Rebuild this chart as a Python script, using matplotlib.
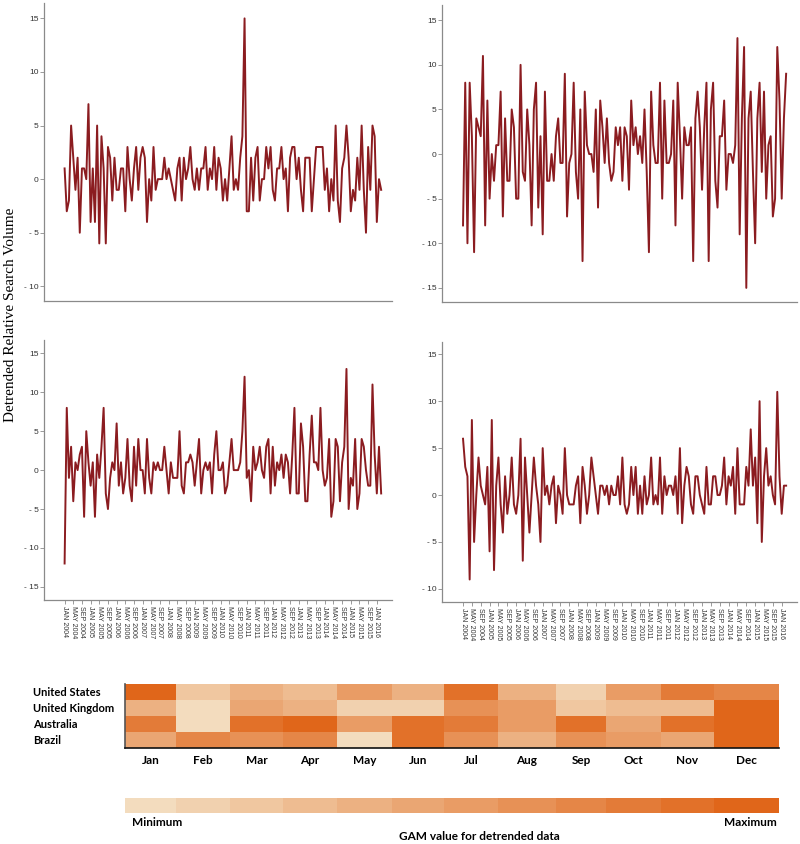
import matplotlib
matplotlib.use("Agg")
import matplotlib.pyplot as plt
import numpy as np
from matplotlib.colors import LinearSegmentedColormap, BoundaryNorm

# detrended relative search volume, monthly from Jan 2004
us_vals = [1, -3, -2, 5, 2, -1, 2, -5, 1, 1, 0, 7, -4, 1, -4, 5, -6, 4, 1, -6,
           3, 2, -2, 2, -1, -1, 1, 1, -3, 3, 0, -2, 1, 3, -1, 2, 3, 2, -4, 0,
           -2, 3, -1, 0, 0, 0, 2, 0, 1, 0, -1, -2, 1, 2, -2, 2, 0, 1, 3, 0,
           -1, 1, -1, 1, 1, 3, -1, 1, 0, 3, -1, 2, 1, -2, 0, -2, 1, 4, -1, 0,
           -1, 2, 4, 15, -3, -3, 2, -2, 2, 3, -2, 0, 0, 3, 1, 3, -1, -2, 1, 1,
           3, 0, 1, -3, 2, 3, 3, 0, 2, -1, -3, 2, 2, 2, -3, 0, 3, 3, 3, 3,
           -1, 1, -3, 0, -2, 5, -2, -4, 1, 2, 5, 2, -3, -1, -2, 2, -1, 5, -1, -5,
           3, -1, 5, 4, -4, 0, -1]
uk_vals = [-8, 8, -10, 8, 2, -11, 4, 3, 2, 11, -8, 6, -5, 0, -3, 1, 1, 7, -7, 4,
           -3, -3, 5, 3, -5, -5, 10, -2, -3, 5, 1, -8, 5, 8, -6, 2, -9, 7, -3, -3,
           0, -3, 2, 4, -1, -1, 9, -7, -1, 0, 8, -2, -5, 5, -12, 7, 1, 0, 0, -2,
           5, -6, 6, 3, -1, 4, -1, -3, -2, 3, 1, 3, -3, 3, 2, -4, 6, 1, 3, 0,
           2, -1, 5, -2, -11, 7, 1, -1, -1, 8, -5, 6, -1, -1, 0, 6, -8, 8, 2, -5,
           3, 1, 1, 3, -12, 4, 7, 3, -4, 3, 8, -12, 5, 8, -3, -6, 2, 2, 6, -4,
           0, 0, -1, 1, 13, -9, 4, 12, -15, 4, 7, -2, -10, 4, 8, -2, 7, -5, 1, 2,
           -7, -5, 12, 6, -5, 4, 9]
au_vals = [-12, 8, -1, 3, -4, 1, 0, 2, 3, -6, 5, 1, -2, 1, -6, 2, -1, 3, 8, -3,
           -5, -1, 1, 0, 6, -2, 1, -3, -1, 4, -2, -4, 3, -2, 4, 0, 0, -3, 4, -1,
           -3, 1, 0, 1, 0, 0, 3, 0, -3, 1, -1, -1, -1, 5, -2, -3, 1, 1, 2, 1,
           -2, 1, 4, -3, 0, 1, 0, 1, -3, 2, 5, 0, 0, 1, -3, -2, 1, 4, 0, 0,
           0, 1, 5, 12, -1, 0, -4, 3, 0, 1, 3, 0, -1, 3, 4, -3, 3, -2, 1, 0,
           2, -1, 2, 1, -3, 2, 8, -3, -3, 6, 3, -4, -4, 2, 7, 1, 1, 0, 8, 0,
           -2, -1, 4, -6, -4, 4, 3, -4, 1, 3, 13, -5, -1, -2, 4, -5, -3, 4, 3, 0,
           -2, -2, 11, 2, -3, 3, -3]
br_vals = [6, 3, 2, -9, 8, -5, 0, 4, 1, 0, -1, 3, -6, 8, -8, 1, 4, -1, -4, 2,
           -2, 0, 4, -1, -2, 0, 6, -7, 4, 0, -4, 0, 4, 1, -1, -5, 5, 0, 1, -1,
           1, 2, -3, 1, 0, -2, 5, 0, -1, -1, -1, 1, 2, -3, 3, 1, -2, 0, 4, 2,
           0, -2, 1, 1, 0, 1, -1, 1, 0, 0, 2, -1, 4, -1, -2, -1, 3, 0, 3, -2,
           1, -2, 2, -1, 0, 4, -1, 0, -1, 4, -2, 2, 0, 1, 1, 0, 2, -2, 5, -3,
           1, 3, 2, -1, -2, 2, 2, 0, -1, -2, 3, -1, -1, 2, 2, 0, 0, 1, 4, -1,
           2, 1, 3, -2, 5, -1, -1, -1, 3, 1, 7, 1, 4, -3, 10, -5, 2, 5, 1, 2,
           0, -1, 11, 2, -2, 1, 1]

tick_months = ["JAN", "MAY", "SEP"]
tick_years = list(range(2004, 2017))

# GAM heatmap (level 0 = minimum, 11 = maximum)
countries = ["United States", "United Kingdom", "Australia", "Brazil"]
months = ["Jan", "Feb", "Mar", "Apr", "May", "Jun", "Jul", "Aug", "Sep", "Oct", "Nov", "Dec"]
gam_us = [11, 2, 4, 3, 6, 4, 10, 4, 1, 6, 9, 8]
gam_uk = [4, 0, 5, 4, 1, 1, 7, 6, 2, 3, 3, 11]
gam_au = [9, 0, 10, 11, 6, 10, 9, 6, 10, 5, 10, 11]
gam_br = [5, 8, 7, 8, 0, 10, 7, 4, 7, 6, 5, 11]

line_col = "#8B1C20"
spine_col = "#8a8a8a"

fig = plt.figure(figsize=(8, 8.44), dpi=100)

panels = [
    (us_vals, [0.055, 0.643, 0.435, 0.353], (-11.4, 16.4), [-10, -5, 0, 5, 10, 15], False),
    (uk_vals, [0.5525, 0.642, 0.444, 0.352], (-16.6, 16.7), [-15, -10, -5, 0, 5, 10, 15], False),
    (au_vals, [0.055, 0.289, 0.435, 0.308], (-16.7, 16.7), [-15, -10, -5, 0, 5, 10, 15], True),
    (br_vals, [0.5525, 0.2867, 0.444, 0.308], (-11.4, 16.3), [-10, -5, 0, 5, 10, 15], True),
]

tick_pos = []
tick_lab = []
for y in tick_years:
    for k, m in enumerate(tick_months):
        idx = (y - 2004) * 12 + k * 4
        if idx <= 144:
            tick_pos.append(idx)
            tick_lab.append(f"{m} {y}")

def fmt(v):
    return f"- {abs(v)}" if v < 0 else str(v)

for vals, rect, ylim, yt, show_x in panels:
    ax = fig.add_axes(rect)
    ax.plot(np.arange(len(vals)), vals, color=line_col, lw=1.4)
    ax.set_ylim(*ylim)
    ax.set_xlim(-9.5, 151)
    for s in ["top", "right"]:
        ax.spines[s].set_visible(False)
    for s in ["left", "bottom"]:
        ax.spines[s].set_color(spine_col)
        ax.spines[s].set_linewidth(0.9)
    ax.set_yticks(yt)
    ax.set_yticklabels([fmt(v) for v in yt], fontsize=6, color="#333333",
                       family="Liberation Sans")
    ax.tick_params(axis="y", length=3, width=0.6, color=spine_col, pad=1)
    if show_x:
        ax.set_xticks(tick_pos)
        ax.set_xticklabels(tick_lab, rotation=-90, fontsize=5, color="#333333",
                           family="Liberation Sans")
        ax.tick_params(axis="x", length=3, width=0.6, color=spine_col, pad=1)
    else:
        ax.set_xticks([])

fig.text(0.013, 0.627, "Detrended Relative Search Volume", rotation=90,
         ha="center", va="center", fontsize=11, family="Liberation Serif")

# heatmap
col_edges = np.array([125, 176, 230, 283, 337, 392, 444, 498, 556, 606, 661, 714, 779])
x0, x1 = col_edges[0], col_edges[-1]
cmap = LinearSegmentedColormap.from_list("gam", ["#F3DCBE", "#E0661A"], N=12)
norm = BoundaryNorm(np.arange(-0.5, 12.5, 1), 12)

hax = fig.add_axes([x0 / 800, 1 - 748 / 844, (x1 - x0) / 800, 64 / 844])
grid = np.array([gam_us, gam_uk, gam_au, gam_br])
hax.pcolormesh(col_edges, np.arange(5), grid, cmap=cmap, norm=norm)
hax.set_xlim(x0, x1)
hax.set_ylim(4, 0)
for s in ["top", "right"]:
    hax.spines[s].set_visible(False)
hax.spines["left"].set_color("#555555")
hax.spines["left"].set_linewidth(1.2)
hax.spines["bottom"].set_color("#111111")
hax.spines["bottom"].set_linewidth(1.2)
hax.set_xticks((col_edges[:-1] + col_edges[1:]) / 2)
hax.set_xticklabels(months, fontsize=8.5, fontweight="bold", family="Lato")
hax.tick_params(axis="x", length=0, pad=5)
hax.set_yticks([])
for i, c in enumerate(countries):
    fig.text(33 / 800, 1 - (692 + 16 * i) / 844, c, ha="left", va="center",
             fontsize=8, fontweight="bold", family="Lato")

# colour key
cax = fig.add_axes([x0 / 800, 1 - 813 / 844, (x1 - x0) / 800, 15 / 844])
cax.pcolormesh(col_edges, [0, 1], np.arange(12)[None, :], cmap=cmap, norm=norm)
cax.set_xlim(x0, x1)
cax.axis("off")
fig.text(132 / 800, 1 - 822 / 844, "Minimum", ha="left", va="center",
         fontsize=8.5, fontweight="bold", family="Lato")
fig.text(777 / 800, 1 - 822 / 844, "Maximum", ha="right", va="center",
         fontsize=8.5, fontweight="bold", family="Lato")
fig.text(479 / 800, 1 - 837 / 844, "GAM value for detrended data", ha="center",
         va="center", fontsize=8.5, fontweight="bold", family="Lato")

fig.savefig("out.png", dpi=100)
